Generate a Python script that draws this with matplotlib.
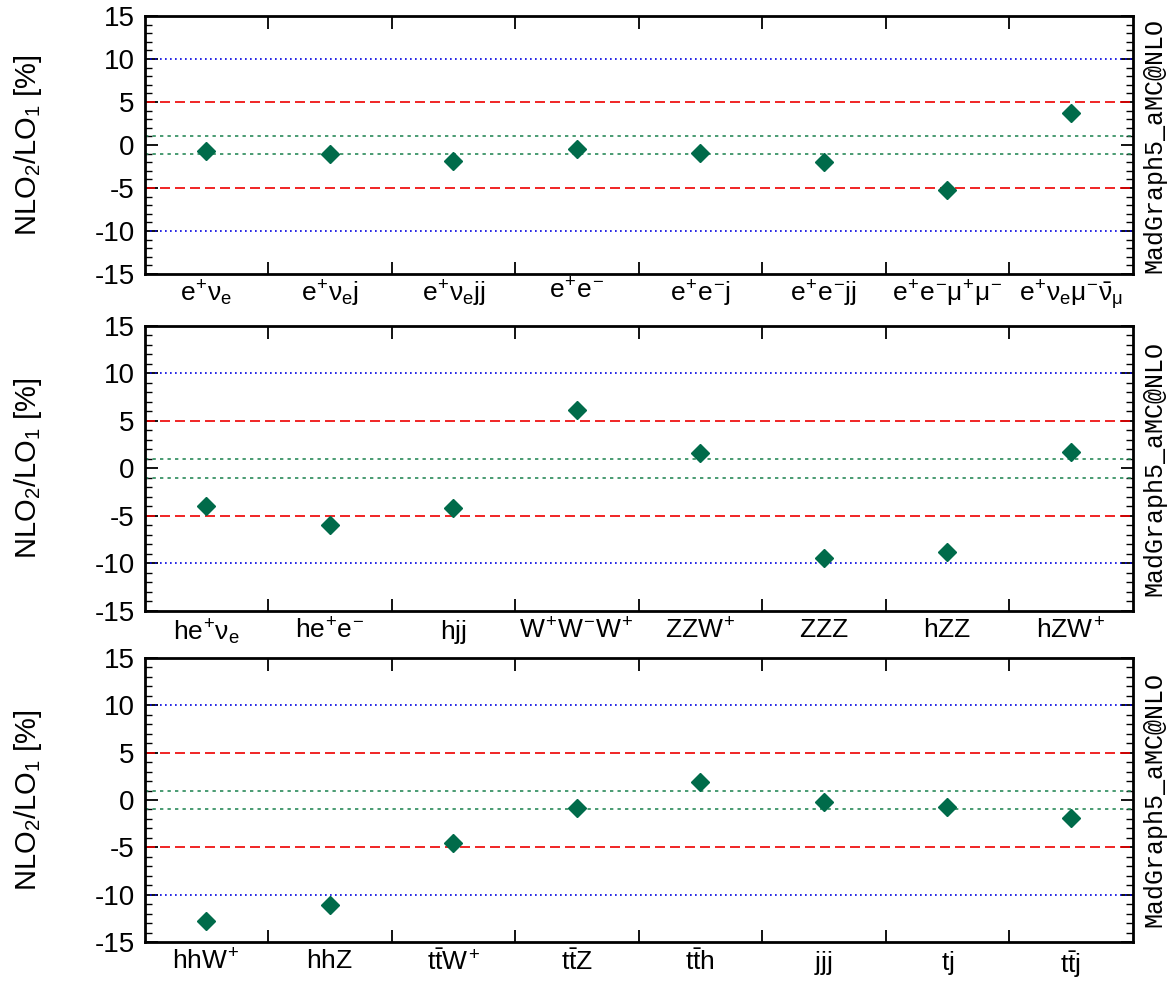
import numpy as np
import matplotlib
matplotlib.use('Agg')
import matplotlib.pyplot as plt
from matplotlib.ticker import MultipleLocator

plt.rcParams['font.family'] = ['Liberation Sans', 'DejaVu Sans']
plt.rcParams['mathtext.fontset'] = 'custom'
plt.rcParams['mathtext.rm'] = 'Liberation Sans'
plt.rcParams['mathtext.it'] = 'Liberation Sans'
plt.rcParams['mathtext.bf'] = 'Liberation Sans:bold'
plt.rcParams['axes.unicode_minus'] = False

# procs and NLO2/LO1 corrections in percent
labels_top = [r'$e^{+}\nu_e$', r'$e^{+}\nu_ej$', r'$e^{+}\nu_ejj$', r'$e^{+}e^{-}$',
              r'$e^{+}e^{-}j$', r'$e^{+}e^{-}jj$', r'$e^{+}e^{-}\mu^{+}\mu^{-}$',
              r'$e^{+}\nu_e\mu^{-}\bar{\nu}_\mu$']
vals_top = [-0.7, -1.05, -1.85, -0.45, -0.95, -2.0, -5.2, 3.7]

labels_mid = [r'$he^{+}\nu_e$', r'$he^{+}e^{-}$', r'$hjj$', r'$W^{+}W^{-}W^{+}$',
              r'$ZZW^{+}$', r'$ZZZ$', r'$hZZ$', r'$hZW^{+}$']
vals_mid = [-4.0, -5.9, -4.2, 6.2, 1.6, -9.4, -8.8, 1.7]

labels_bot = [r'$hhW^{+}$', r'$hhZ$', r'$t\bar{t}W^{+}$', r'$t\bar{t}Z$',
              r'$t\bar{t}h$', r'$jjj$', r'$tj$', r'$t\bar{t}j$']
vals_bot = [-12.8, -11.1, -4.5, -0.8, 1.9, -0.2, -0.7, -1.95]

panels = [(labels_top, vals_top), (labels_mid, vals_mid), (labels_bot, vals_bot)]
rects = [[0.1233, 0.7215, 0.8430, 0.2622],
         [0.1233, 0.3791, 0.8430, 0.2896],
         [0.1233, 0.0427, 0.8430, 0.2886]]

fig = plt.figure(figsize=(11.72, 9.84), dpi=100)

for i, ((labs, vals), r) in enumerate(zip(panels, rects)):
    ax = fig.add_axes(r)
    n = len(labs)
    x = np.arange(n) + 0.5
    ax.axhline(10, color='#0000e0', ls=(0, (1, 2)), lw=1.2)
    ax.axhline(-10, color='#0000e0', ls=(0, (1, 2)), lw=1.2)
    ax.axhline(5, color='#ee0000', ls=(0, (6, 3)), lw=1.2)
    ax.axhline(-5, color='#ee0000', ls=(0, (6, 3)), lw=1.2)
    ax.axhline(1, color='#2a8a5a', ls=(0, (2, 2.5)), lw=1.2)
    ax.axhline(-1, color='#2a8a5a', ls=(0, (2, 2.5)), lw=1.2)
    ax.plot(x, vals, 'D', color='#006b4a', ms=9, zorder=5)
    ax.set_xlim(0, n)
    ax.set_ylim(-15, 15)
    ax.set_xticks(np.arange(1, n))
    ax.set_xticklabels([])
    ax.set_xticks(x, minor=True)
    ax.set_xticklabels(labs, minor=True, fontsize=19)
    ax.tick_params(axis='x', which='major', direction='in', length=9, width=1.3,
                   top=True, bottom=True)
    ax.tick_params(axis='x', which='minor', length=0, pad=3 if i == 0 else 5)
    ax.yaxis.set_major_locator(MultipleLocator(5))
    ax.yaxis.set_minor_locator(MultipleLocator(1))
    ax.tick_params(axis='y', which='major', direction='in', length=9, width=1.3,
                   left=True, right=True, labelsize=20, pad=7)
    ax.tick_params(axis='y', which='minor', direction='in', length=5, width=1.0,
                   left=True, right=True)
    for s in ax.spines.values():
        s.set_linewidth(2)
    ax.set_ylabel(r'NLO$_2$/LO$_1$ [%]', fontsize=21)
    ax.yaxis.set_label_coords(-0.102, 0.5)
    ax.text(1.022, 0.5, 'MadGraph5_aMC@NLO', transform=ax.transAxes,
            rotation=90, ha='center', va='center', fontsize=18,
            family=['Liberation Mono', 'DejaVu Sans Mono'])

fig.savefig('out.png', dpi=100)
